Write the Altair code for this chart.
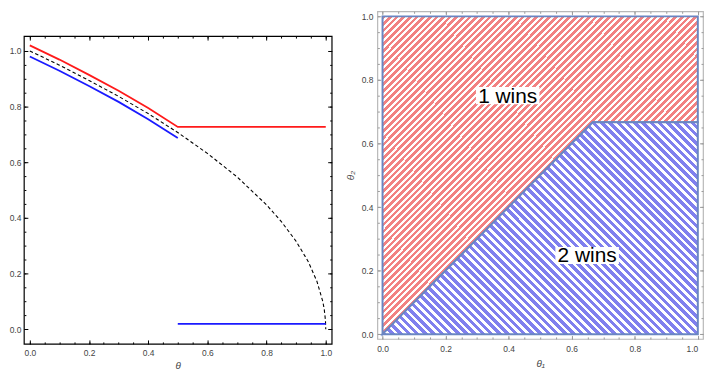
import altair as alt
import pandas as pd

FONT = "Liberation Sans"

# ---------------- left panel data ----------------
theta_curve = [0.0, 0.1, 0.2, 0.3, 0.4, 0.5]
red_curve = [1.02, 0.969, 0.914, 0.857, 0.795, 0.727]
red_flat_x = [0.5, 1.0]
red_flat_y = [0.727, 0.727]
blue_curve = [0.98, 0.929, 0.874, 0.817, 0.755, 0.687]
blue_flat_x = [0.5, 1.0]
blue_flat_y = [0.02, 0.02]
dash_x = [0.0, 0.1, 0.2, 0.3, 0.4, 0.5, 0.6, 0.7, 0.8, 0.85, 0.9, 0.94, 0.97, 0.99, 0.995, 0.999, 1.0]
dash_y = [1.0, 0.949, 0.894, 0.837, 0.775, 0.707, 0.632, 0.548, 0.447, 0.387, 0.316, 0.245, 0.173, 0.1, 0.071, 0.032, 0.0]

# ---------------- right panel data ----------------
region_x = [0.0, 0.6667, 1.0]
region_top = [1.0, 1.0, 1.0]
region_boundary = [0.0, 0.6667, 0.6667]
region_bottom = [0.0, 0.0, 0.0]
label_text = ["1 wins", "2 wins"]
label_x = [0.397, 0.649]
label_y = [0.7285, 0.2256]

# ---------------- ticks ----------------
major_ticks = [0.0, 0.2, 0.4, 0.6, 0.8, 1.0]
major_ticks_inner = [0.0, 0.2, 0.4, 0.6, 0.8]
last_tick = [1.0]
minor_ticks = [0.0, 0.05, 0.1, 0.15, 0.2, 0.25, 0.3, 0.35, 0.4, 0.45, 0.5,
               0.55, 0.6, 0.65, 0.7, 0.75, 0.8, 0.85, 0.9, 0.95, 1.0]


def axis(orient, values, size, color, labels=False, pad=3, **kw):
    d = dict(orient=orient, values=values, tickSize=size, offset=-size,
             domain=False, grid=False, ticks=True, tickColor=color,
             tickWidth=1, labels=labels)
    if labels:
        d.update(format=".1f", labelFont=FONT, labelFontSize=8.5,
                 labelColor="#444444", labelPadding=pad)
    d.update(kw)
    if "title" not in d:
        d["title"] = None
    return alt.Axis(**d)


def stripes(color, n, frac):
    stops = []
    for i in range(n):
        a = i / n
        b = (i + frac) / n
        c = (i + 1) / n
        stops += [alt.GradientStop(offset=a, color=color),
                  alt.GradientStop(offset=b, color=color),
                  alt.GradientStop(offset=b, color="white"),
                  alt.GradientStop(offset=c, color="white")]
    return stops


TITLE_KW = dict(titleFont=FONT, titleFontSize=10, titleFontStyle="italic",
                titleFontWeight="normal", titleColor="#444444")

# ================= LEFT =================
xsL = alt.Scale(domain=[-0.02, 1.02], nice=False, zero=False)
ysL = alt.Scale(domain=[-0.0523, 1.0533], nice=False, zero=False)
BL = "black"

dash_df = pd.DataFrame({"x": dash_x, "y": dash_y})
red_df = pd.DataFrame({"x": theta_curve + red_flat_x[1:], "y": red_curve + red_flat_y[1:]})
bc_df = pd.DataFrame({"x": theta_curve, "y": blue_curve})
bf_df = pd.DataFrame({"x": blue_flat_x, "y": blue_flat_y})

l_dash = alt.Chart(dash_df).mark_line(color="black", strokeWidth=1.1, strokeDash=[3.5, 2.5]).encode(
    x=alt.X("x:Q", scale=xsL, axis=axis("bottom", major_ticks, 4, BL, labels=True, pad=4.5,
                                          title="θ", titlePadding=4, **TITLE_KW)),
    y=alt.Y("y:Q", scale=ysL, axis=axis("left", major_ticks, 4, BL, labels=True, pad=3)),
)
l_red = alt.Chart(red_df).mark_line(color="#ff1a1a", strokeWidth=1.8).encode(
    x=alt.X("x:Q", scale=xsL, axis=axis("bottom", minor_ticks, 2, BL)),
    y=alt.Y("y:Q", scale=ysL, axis=axis("left", minor_ticks, 2, BL)),
)
l_bc = alt.Chart(bc_df).mark_line(color="#1a1aff", strokeWidth=1.8).encode(
    x=alt.X("x:Q", scale=xsL, axis=axis("top", major_ticks, 4, BL)),
    y=alt.Y("y:Q", scale=ysL, axis=axis("right", major_ticks, 4, BL)),
)
l_bf = alt.Chart(bf_df).mark_line(color="#1a1aff", strokeWidth=1.8).encode(
    x=alt.X("x:Q", scale=xsL, axis=axis("top", minor_ticks, 2, BL)),
    y=alt.Y("y:Q", scale=ysL, axis=axis("right", minor_ticks, 2, BL)),
)

left = alt.layer(l_dash, l_red, l_bc, l_bf).resolve_axis(x="independent", y="independent").properties(
    width=310, height=310,
    view=alt.ViewBackground(stroke="black", strokeWidth=1.2),
)

spacer = alt.Chart(pd.DataFrame({"a": [0]})).mark_point(opacity=0, size=1).encode(
    x=alt.value(0), y=alt.value(0)
).properties(width=10, height=22, view=alt.ViewBackground(stroke="transparent"))

left_col = alt.vconcat(spacer, left, spacing=0)

# ================= RIGHT =================
xsR = alt.Scale(domain=[-0.0165, 1.0165], nice=False, zero=False)
ysR = alt.Scale(domain=[-0.015, 1.016], nice=False, zero=False)
GR = "#9a9a9a"

reg_df = pd.DataFrame({"x": region_x, "top": region_top, "bnd": region_boundary, "bot": region_bottom})
lab_df = pd.DataFrame({"t": label_text, "x": label_x, "y": label_y})

red_fill = alt.LinearGradient(gradient="linear", stops=stripes("#f28282", 95, 0.55),
                              x1=0, y1=0, x2=1, y2=1)
blue_fill = alt.LinearGradient(gradient="linear", stops=stripes("#8080ee", 64, 0.55),
                               x1=0, y1=1, x2=1.1518, y2=0.226)

r_red = alt.Chart(reg_df).mark_area(fill=red_fill, stroke="#6a86c2", strokeWidth=2, opacity=1).encode(
    x=alt.X("x:Q", scale=xsR, axis=axis("bottom", major_ticks_inner, 3.5, GR, labels=True, pad=6,
                                          title="θ₁", titlePadding=5, **TITLE_KW)),
    y=alt.Y("top:Q", scale=ysR, axis=axis("left", major_ticks, 3.5, GR, labels=True, pad=4.5,
                                           title="θ₂", titlePadding=6, **TITLE_KW)),
    y2="bnd:Q",
)
r_blue = alt.Chart(reg_df).mark_area(fill=blue_fill, stroke="#6a86c2", strokeWidth=2, opacity=1).encode(
    x=alt.X("x:Q", scale=xsR, axis=axis("bottom", minor_ticks, 2, GR)),
    y=alt.Y("bnd:Q", scale=ysR, axis=axis("left", minor_ticks, 2, GR)),
    y2="bot:Q",
)
box_path = "M-1,-0.27L1,-0.27L1,0.27L-1,0.27Z"
r_box = alt.Chart(lab_df).mark_point(shape=box_path, size=4096, filled=True, color="white",
                                     opacity=1, strokeWidth=0, yOffset=-7).encode(
    x=alt.X("x:Q", scale=xsR, axis=axis("top", major_ticks, 3.5, GR)),
    y=alt.Y("y:Q", scale=ysR, axis=axis("right", major_ticks, 3.5, GR)),
)
r_text = alt.Chart(lab_df).mark_text(font=FONT, fontSize=21, color="black", align="center",
                                     baseline="alphabetic").encode(
    x=alt.X("x:Q", scale=xsR, axis=axis("top", minor_ticks, 2, GR)),
    y=alt.Y("y:Q", scale=ysR, axis=axis("right", minor_ticks, 2, GR)),
    text="t:N",
)
r_last = alt.Chart(lab_df).mark_point(opacity=0, size=1).encode(
    x=alt.X("x:Q", scale=xsR, axis=axis("bottom", last_tick, 3.5, GR, labels=True, pad=6,
                                          labelFlush=12)),
    y=alt.Y("y:Q", scale=ysR, axis=None),
)

right = alt.layer(r_red, r_blue, r_box, r_text, r_last).resolve_axis(
    x="independent", y="independent").properties(
    width=328, height=330,
    view=alt.ViewBackground(stroke="#b8b8b8", strokeWidth=1.2),
)

chart = alt.hconcat(left_col, right, spacing=11).properties(padding=0).configure(background="white")

chart.save("out.html", embed_options={"renderer": "svg", "actions": False})
